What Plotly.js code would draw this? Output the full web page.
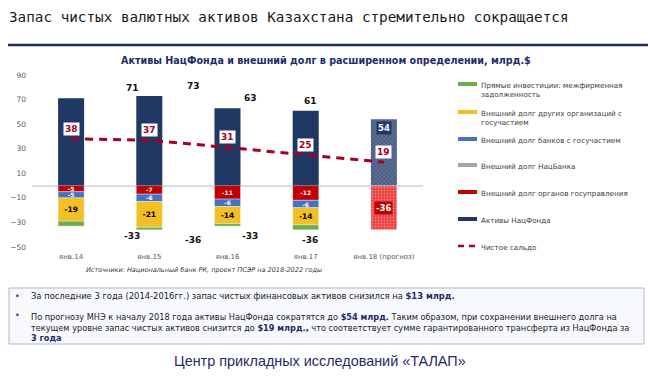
<!DOCTYPE html>
<html>
<head>
<meta charset="utf-8">
<script src="https://cdn.plot.ly/plotly-3.0.1.min.js"></script>
<style>
  html, body { margin: 0; padding: 0; background: #ffffff; }
  #chart { width: 650px; height: 376px; }
</style>
</head>
<body>
<div id="chart"></div>
<script>
// ---------- DATA ----------
const categories = ['янв.14', 'янв.15', 'янв.16', 'янв.17', 'янв.18 (прогноз)'];
const fundAssets = [71, 73, 63, 61, 54];            // Активы НацФонда
const govDebt = [-5, -7, -11, -12, -36];            // Внешний долг органов госуправления
const stateBanksDebt = [-5, -6, -6, -6, 0];         // Внешний долг банков с госучастием
const natBankDebt = [0, 0, 0, 0, 0];                // Внешний долг НацБанка
const otherStateOrgsDebt = [-19, -21, -14, -14, 0]; // Внешний долг других организаций с госучастием
const fdiIntercompany = [-4, -2, -2, -4, 0];        // Прямые инвестиции: межфирменная задолженность
const netBalance = [38, 37, 31, 25, 19];            // Чистое сальдо

const seriesNames = {
  fdi: 'Прямые инвестиции: межфирменная<br>задолженность',
  other: 'Внешний долг других организаций с<br>госучастием',
  banks: 'Внешний долг банков с госучастием',
  natbank: 'Внешний долг НацБанка',
  gov: 'Внешний долг органов госуправления',
  assets: 'Активы НацФонда',
  net: 'Чистое сальдо'
};

// ---------- STYLE ----------
const C = {
  navy: '#1f3864', navyF: '#4b5c86', navyP: '#8090b0',
  red: '#c00000', redF: '#e8403f', redP: '#f48080',
  blue: '#4472c4', gray: '#a5a5a5', yellow: '#f2bf26', green: '#6aae4a',
  line: '#a50021', title: '#1f2a6b', text: '#404040'
};
const FONT = 'DejaVu Sans, Verdana, sans-serif';
// plot area in px
const L = 32, R = 423, T = 75, B = 247;
const px2x = p => (p - L) / (R - L);
const px2y = p => (B - p) / (B - T);
const last = categories.length - 1;

function segText(arr, skipLast) {
  return arr.map((v, i) => (v === 0 || (skipLast && i === last)) ? '' : String(v));
}
const segFont = (c, s) => ({ family: FONT, size: s, color: c, weight: 'bold' });
const barLine = { color: 'rgba(255,255,255,0.7)', width: 0.5 };

const traces = [
  {
    type: 'bar', x: categories, y: govDebt, name: seriesNames.gov, showlegend: false,
    marker: {
      color: C.red, line: barLine,
      pattern: { shape: govDebt.map((v, i) => i === last ? '.' : ''), fillmode: 'replace',
                 bgcolor: C.redF, fgcolor: C.redP, size: 3, solidity: 0.3 }
    },
    text: segText(govDebt, true), textposition: 'inside', insidetextanchor: 'middle', textangle: 0,
    constraintext: 'none', textfont: segFont('#ffffff', 6), hoverinfo: 'skip'
  },
  {
    type: 'bar', x: categories, y: stateBanksDebt, name: seriesNames.banks, showlegend: false,
    marker: { color: C.blue, line: barLine },
    text: segText(stateBanksDebt), textposition: 'inside', insidetextanchor: 'middle', textangle: 0,
    constraintext: 'none', textfont: segFont('#ffffff', 6), hoverinfo: 'skip'
  },
  {
    type: 'bar', x: categories, y: natBankDebt, name: seriesNames.natbank, showlegend: false,
    marker: { color: C.gray }, hoverinfo: 'skip'
  },
  {
    type: 'bar', x: categories, y: otherStateOrgsDebt, name: seriesNames.other, showlegend: false,
    marker: { color: C.yellow, line: barLine },
    text: segText(otherStateOrgsDebt), textposition: 'inside', insidetextanchor: 'middle', textangle: 0,
    constraintext: 'none', textfont: segFont('#000000', 7.5), hoverinfo: 'skip'
  },
  {
    type: 'bar', x: categories, y: fdiIntercompany, name: seriesNames.fdi, showlegend: false,
    marker: { color: C.green, line: barLine }, hoverinfo: 'skip'
  },
  {
    type: 'bar', x: categories, y: fundAssets, name: seriesNames.assets, showlegend: false,
    marker: {
      color: C.navy,
      line: { width: 0 },
      pattern: { shape: fundAssets.map((v, i) => i === last ? 'x' : ''), fillmode: 'replace',
                 bgcolor: C.navyF, fgcolor: C.navyP, size: 3, solidity: 0.25 }
    },
    hoverinfo: 'skip'
  },
  {
    type: 'scatter', mode: 'lines', x: categories, y: netBalance, name: seriesNames.net, showlegend: false,
    line: { color: C.line, width: 3, dash: '8px,6px' }, hoverinfo: 'skip'
  }
];

const annotations = [];
const shapes = [];

// net balance labels
netBalance.forEach((v, i) => {
  annotations.push({
    xref: 'x', yref: 'y', x: i, y: v, yshift: 10, showarrow: false,
    text: '<b>' + v + '</b>', bgcolor: '#ffffff', borderpad: 1,
    font: { family: FONT, size: 9, color: C.line }
  });
});

// totals above/below bars (offset as in reference)
const totalShift = [0.78, 0.56, 0.29, 0.06];
for (let i = 0; i < last; i++) {
  const negSum = govDebt[i] + stateBanksDebt[i] + natBankDebt[i] + otherStateOrgsDebt[i] + fdiIntercompany[i];
  annotations.push({
    xref: 'x', yref: 'y', x: i + totalShift[i], y: fundAssets[i], yshift: 10, showarrow: false,
    text: '<b>' + fundAssets[i] + '</b>', font: { family: FONT, size: 9, color: '#111111' }
  });
  annotations.push({
    xref: 'x', yref: 'y', x: i + totalShift[i], y: negSum, yshift: -10, showarrow: false,
    text: '<b>' + negSum + '</b>', font: { family: FONT, size: 9, color: '#111111' }
  });
}
// forecast labels
annotations.push({
  xref: 'x', yref: 'y', x: last, y: fundAssets[last], yshift: -9, showarrow: false,
  text: '<b>' + fundAssets[last] + '</b>', bgcolor: C.navy, borderpad: 1,
  font: { family: FONT, size: 8.5, color: '#ffffff' }
});
annotations.push({
  xref: 'x', yref: 'y', x: last, y: govDebt[last] / 2, showarrow: false,
  text: '<b>' + govDebt[last] + '</b>', bgcolor: C.red, borderpad: 1,
  font: { family: FONT, size: 8.5, color: '#ffffff' }
});

// legend (manual)
const legendItems = [
  { name: seriesNames.fdi, color: C.green, y: 84 },
  { name: seriesNames.other, color: C.yellow, y: 112 },
  { name: seriesNames.banks, color: C.blue, y: 139 },
  { name: seriesNames.natbank, color: C.gray, y: 165 },
  { name: seriesNames.gov, color: C.red, y: 192 },
  { name: seriesNames.assets, color: C.navy, y: 219 },
  { name: seriesNames.net, color: C.line, y: 246, dash: true }
];
legendItems.forEach(it => {
  shapes.push({
    type: 'line', xref: 'paper', yref: 'paper',
    x0: px2x(458), x1: px2x(477), y0: px2y(it.y), y1: px2y(it.y),
    line: { color: it.color, width: it.dash ? 2.5 : 4, dash: it.dash ? '6px,5px' : 'solid' }
  });
  annotations.push({
    xref: 'paper', yref: 'paper', x: px2x(479), y: px2y(it.y - 5.5),
    xanchor: 'left', yanchor: 'top', align: 'left', showarrow: false,
    text: it.name, font: { family: FONT, size: 7.2, color: C.text }
  });
});

// slide title
annotations.push({
  xref: 'paper', yref: 'paper', x: px2x(7), y: px2y(17), xanchor: 'left', yanchor: 'middle',
  showarrow: false, text: 'Запас чистых валютных активов Казахстана стремительно сокращается',
  font: { family: 'DejaVu Sans Mono, monospace', size: 14.3, color: '#1a1a1a' }
});
shapes.push({
  type: 'line', xref: 'paper', yref: 'paper', x0: px2x(8), x1: px2x(648), y0: px2y(45), y1: px2y(45),
  line: { color: C.title, width: 2.5 }
});
// chart title
annotations.push({
  xref: 'paper', yref: 'paper', x: px2x(326), y: px2y(60), xanchor: 'center', yanchor: 'middle',
  showarrow: false, text: '<b>Активы НацФонда и внешний долг в расширенном определении, млрд.$</b>',
  font: { family: FONT, size: 9.6, color: C.title }
});
// source
annotations.push({
  xref: 'paper', yref: 'paper', x: px2x(204), y: px2y(270), xanchor: 'center', yanchor: 'middle',
  showarrow: false, text: '<i>Источники: Национальный банк РК, проект ПСЭР на 2018-2022 годы</i>',
  font: { family: FONT, size: 6.5, color: '#333333' }
});
// text box
shapes.push({
  type: 'rect', xref: 'paper', yref: 'paper', layer: 'below',
  x0: px2x(9), x1: px2x(644), y0: px2y(288), y1: px2y(344),
  fillcolor: '#f7f9fd', line: { color: '#a9b8d3', width: 1 }
});
const hl = s => '<span style="color:' + C.title + '"><b>' + s + '</b></span>';
annotations.push({
  xref: 'paper', yref: 'paper', x: px2x(13), y: px2y(296), xanchor: 'left', yanchor: 'middle',
  showarrow: false, text: '•', font: { family: FONT, size: 8, color: '#333333' }
});
annotations.push({
  xref: 'paper', yref: 'paper', x: px2x(13), y: px2y(315), xanchor: 'left', yanchor: 'middle',
  showarrow: false, text: '•', font: { family: FONT, size: 8, color: '#333333' }
});
annotations.push({
  xref: 'paper', yref: 'paper', x: px2x(29), y: px2y(296), xanchor: 'left', yanchor: 'middle',
  showarrow: false, align: 'left',
  text: 'За последние 3 года (2014-2016гг.) запас чистых финансовых активов снизился на ' + hl('$13 млрд.'),
  font: { family: FONT, size: 8.4, color: '#222222' }
});
annotations.push({
  xref: 'paper', yref: 'paper', x: px2x(29), y: px2y(309.5), xanchor: 'left', yanchor: 'top',
  showarrow: false, align: 'left',
  text: 'По прогнозу МНЭ к началу 2018 года активы НацФонда сократятся до ' + hl('$54 млрд.') +
        ' Таким образом, при сохранении внешнего долга на<br>' +
        'текущем уровне запас чистых активов снизится до ' + hl('$19 млрд.,') +
        ' что соответствует сумме гарантированного трансферта из НацФонда за<br>' + hl('3 года'),
  font: { family: FONT, size: 8.2, color: '#222222' }
});
// footer
annotations.push({
  xref: 'paper', yref: 'paper', x: px2x(320), y: px2y(361), xanchor: 'center', yanchor: 'middle',
  showarrow: false, text: 'Центр прикладных исследований «ТАЛАП»',
  font: { family: 'Liberation Sans, Arial, sans-serif', size: 14.4, color: C.title }
});

const layout = {
  width: 650, height: 376,
  margin: { l: L, r: 650 - R, t: T, b: 376 - B, pad: 0 },
  paper_bgcolor: '#ffffff', plot_bgcolor: 'rgba(0,0,0,0)',
  barmode: 'relative', bargap: 0.667,
  showlegend: false,
  font: { family: FONT, size: 7.5, color: '#595959' },
  xaxis: {
    type: 'category', categoryarray: categories, range: [-0.5, last + 0.5],
    showgrid: false, zeroline: false, showline: false, ticks: '',
    tickfont: { family: FONT, size: 7, color: '#595959' }, ticklabelstandoff: 4, fixedrange: true
  },
  yaxis: {
    range: [-50, 90], tickvals: [-50, -30, -10, 10, 30, 50, 70, 90],
    showgrid: false, showline: false, ticks: '',
    zeroline: true, zerolinecolor: '#dcdcdc', zerolinewidth: 2,
    tickfont: { family: FONT, size: 7.5, color: '#595959' }, ticklabelstandoff: 5, fixedrange: true
  },
  annotations: annotations,
  shapes: shapes
};

Plotly.newPlot('chart', traces, layout, { displayModeBar: false, staticPlot: true });
</script>
</body>
</html>
